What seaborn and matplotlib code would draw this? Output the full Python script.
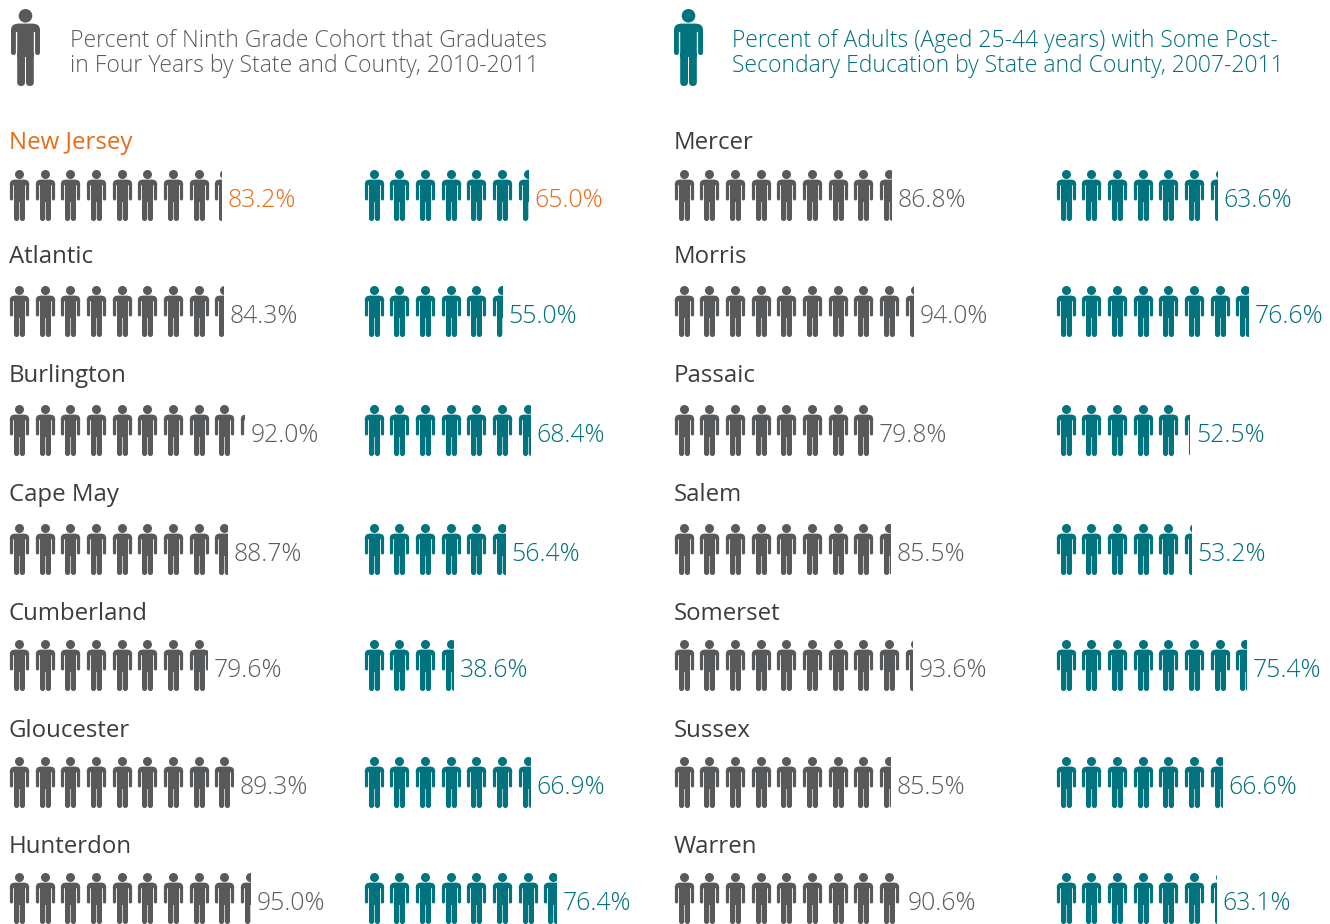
import numpy as np
import pandas as pd
import matplotlib
matplotlib.use("Agg")
import matplotlib.pyplot as plt
from matplotlib.path import Path
from matplotlib.patches import Rectangle
import seaborn as sns

left_names = ["New Jersey", "Atlantic", "Burlington", "Cape May", "Cumberland", "Gloucester", "Hunterdon"]
left_grad = [83.2, 84.3, 92.0, 88.7, 79.6, 89.3, 95.0]
left_edu = [65.0, 55.0, 68.4, 56.4, 38.6, 66.9, 76.4]
right_names = ["Mercer", "Morris", "Passaic", "Salem", "Somerset", "Sussex", "Warren"]
right_grad = [86.8, 94.0, 79.8, 85.5, 93.6, 85.5, 90.6]
right_edu = [63.6, 76.6, 52.5, 53.2, 75.4, 66.6, 63.1]
title_grad = "Percent of Ninth Grade Cohort that Graduates\nin Four Years by State and County, 2010-2011"
title_edu = "Percent of Adults (Aged 25-44 years) with Some Post-\nSecondary Education by State and County, 2007-2011"

GREY, TEAL, ORANGE = "#58595b", "#00737f", "#ee7a2d"
GREY_TXT, TEAL_TXT, NAME_TXT = "#5a5b5e", "#006f7b", "#3c3c3e"
ORANGE_TXT = "#ea6a16"
FONT = "Open Sans"
ICON_W, ICON_H, PITCH = 19.0, 51.0, 25.7
ROW_TOP = [169.5, 285.5, 404.5, 523.5, 639.5, 756.5, 872.5]
NAME_Y = [140, 254, 373, 492, 611, 728, 844]
LABEL_Y = [197.5, 313.5, 432.5, 551.5, 667.5, 784.5, 900.5]


def rrect(x0, y0, x1, y1, rt, rb):
    verts = [(x0 + rt, y0), (x1 - rt, y0), (x1, y0), (x1, y0 + rt), (x1, y1 - rb), (x1, y1), (x1 - rb, y1),
             (x0 + rb, y1), (x0, y1), (x0, y1 - rb), (x0, y0 + rt), (x0, y0), (x0 + rt, y0), (x0 + rt, y0)]
    codes = [Path.MOVETO, Path.LINETO, Path.CURVE3, Path.CURVE3, Path.LINETO, Path.CURVE3, Path.CURVE3,
             Path.LINETO, Path.CURVE3, Path.CURVE3, Path.LINETO, Path.CURVE3, Path.CURVE3, Path.CLOSEPOLY]
    return Path(verts, codes)


def person_marker():
    head = Path.circle((14.5, 6.8), 6.8)
    parts = [
        rrect(0, 14.8, 29, 23, 6.5, 0),
        rrect(0, 20, 4.9, 46, 0, 2.4),
        rrect(24.1, 20, 29, 46, 0, 2.4),
        rrect(6.2, 14.8, 22.8, 48, 0, 0),
        rrect(6.2, 44, 14.0, 77, 0, 3.9),
        rrect(15.0, 44, 22.8, 77, 0, 3.9),
    ]
    paths = [head] + parts
    verts = np.vstack([p.vertices for p in paths])
    codes = np.concatenate([p.codes for p in paths])
    verts = np.column_stack([verts[:, 0] - 14.5, 38.5 - verts[:, 1]])
    return Path(verts, codes)


PERSON = person_marker()


def draw_icons(ax, xs, yc, height, color, clip_to=None):
    df = pd.DataFrame({"x": xs, "y": yc})
    size_pt = height * 72 / fig.dpi
    before = len(ax.collections)
    sns.scatterplot(data=df, x="x", y="y", ax=ax, marker=PERSON, s=size_pt ** 2,
                    color=color, linewidth=0, legend=False)
    coll = ax.collections[before]
    if clip_to is not None:
        coll.set_clip_path(Rectangle((0, 0), clip_to, 924, transform=ax.transData))


def partial_width(frac):
    # the last figure is cut at the share it represents, but its slim lower arm
    # leaves nothing to see between about 0.65 and 0.9 of its width
    if frac < 0.65 or frac >= 0.9:
        return frac * ICON_W
    return 0.62 * ICON_W


def draw_bar(ax, value, x0, row, color, txt_color):
    units = value / 10
    whole = int(np.floor(units + 1e-9))
    frac = units - whole
    if frac < 0.1:  # too thin a sliver to show
        n, end = whole, x0 + (whole - 1) * PITCH + ICON_W + 3
    else:
        n, end = whole + 1, x0 + whole * PITCH + partial_width(frac)
    xs = x0 + ICON_W / 2 + np.arange(n) * PITCH
    draw_icons(ax, xs, [ROW_TOP[row] + ICON_H / 2] * n, ICON_H, color, clip_to=end)
    ax.text(end + 6.5, LABEL_Y[row], f"{value:.1f}%", color=txt_color, fontsize=17.8,
            family=FONT, va="center_baseline", ha="left", weight="light")


sns.set_theme(style="white")
plt.rcParams["font.family"] = [FONT, "DejaVu Sans"]
fig = plt.figure(figsize=(13.3, 9.24), dpi=100)
ax = fig.add_axes([0, 0, 1, 1])
ax.set_xlim(0, 1330)
ax.set_ylim(924, 0)

# Header
for x, yc, col in [(25, 47, GREY), (688, 47, TEAL)]:
    draw_icons(ax, [x], [yc], 77, col)
ax.text(70, 53.5, title_grad, color=GREY_TXT, fontsize=16.55, family=FONT, va="center", linespacing=1.11,
        weight="light")
ax.text(732, 53.5, title_edu, color=TEAL_TXT, fontsize=16.5, family=FONT, va="center", linespacing=1.11,
        weight="light")

# Rows
for i in range(7):
    first = i == 0
    ax.text(9, NAME_Y[i], left_names[i], color=ORANGE_TXT if first else NAME_TXT, fontsize=17.3,
            family=FONT, va="center_baseline")
    ax.text(674, NAME_Y[i], right_names[i], color=NAME_TXT, fontsize=17.3, family=FONT, va="center_baseline")
    draw_bar(ax, left_grad[i], 9.3, i, GREY, ORANGE_TXT if first else GREY_TXT)
    draw_bar(ax, left_edu[i], 364, i, TEAL, ORANGE_TXT if first else TEAL_TXT)
    draw_bar(ax, right_grad[i], 674, i, GREY, GREY_TXT)
    draw_bar(ax, right_edu[i], 1056, i, TEAL, TEAL_TXT)

ax.set_xlim(0, 1330)
ax.set_ylim(924, 0)
ax.axis("off")
fig.savefig("out.png", dpi=100, facecolor="white")
